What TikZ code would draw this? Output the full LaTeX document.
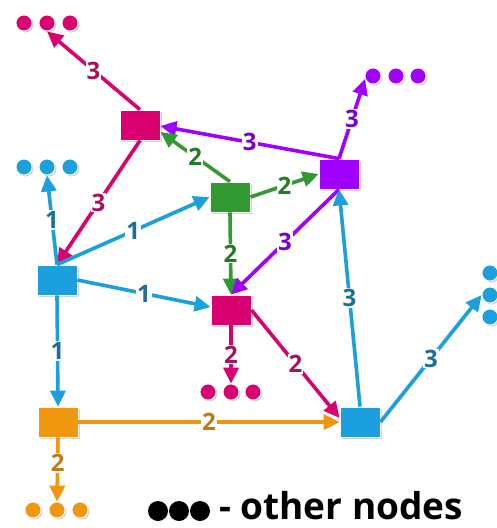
\documentclass[tikz,border=0pt]{standalone}
\usepackage{fontspec}
\setsansfont{Open Sans}
\usetikzlibrary{arrows.meta,shadows,calc}
\definecolor{cpink}{HTML}{D9006F}
\definecolor{cpinkt}{HTML}{A3135E}
\definecolor{cblue}{HTML}{1CA0DD}
\definecolor{cbluet}{HTML}{1A6E9E}
\definecolor{cgreen}{HTML}{339933}
\definecolor{cgreent}{HTML}{267A26}
\definecolor{cpurple}{HTML}{A000FF}
\definecolor{cpurplet}{HTML}{7B00C8}
\definecolor{corange}{HTML}{F0960F}
\definecolor{coranget}{HTML}{C07A10}
\begin{document}
\begin{tikzpicture}[x=1pt,y=-1pt,
  sq/.style={rectangle, minimum width=40pt, minimum height=30pt, inner sep=0pt,
    draw=white, line width=0.8pt, fill=#1,
    drop shadow={shadow xshift=2pt, shadow yshift=-2pt, opacity=0.35}},
  ndot/.style={circle, minimum size=16pt, inner sep=0pt, fill=#1, draw=white, line width=0.8pt,
    drop shadow={shadow xshift=1.5pt, shadow yshift=-1.5pt, opacity=0.35}},
  conn/.style={draw=#1, line width=3.6pt, -{Triangle[length=16pt,width=15pt]},
    preaction={draw=black!50, opacity=0.25, transform canvas={xshift=1.5pt,yshift=-1.5pt}}},
  lab/.style={fill=white, inner sep=1pt, text=#1,
    font=\sffamily\bfseries\fontsize{24}{24}\selectfont}
]
\useasboundingbox (0,0) rectangle (497,528);

% main nodes
\node[sq=cpink]   (P1) at (140,125) {};
\node[sq=cgreen]  (G)  at (230,197) {};
\node[sq=cpurple] (V)  at (339,174) {};
\node[sq=cblue]   (B1) at (57,280) {};
\node[sq=cpink]   (P2) at (231,310) {};
\node[sq=cblue]   (B2) at (360,422) {};
\node[sq=corange] (O)  at (58,422) {};

% dots groups
\node[ndot=cpink] (pk1) at (24,23) {};
\node[ndot=cpink] (pk2) at (47,23) {};
\node[ndot=cpink] (pk3) at (70,23) {};
\node[ndot=cblue] (bd1) at (24,167) {};
\node[ndot=cblue] (bd2) at (47,167) {};
\node[ndot=cblue] (bd3) at (70,167) {};
\node[ndot=cpurple] (vd1) at (373,76) {};
\node[ndot=cpurple] (vd2) at (396,76) {};
\node[ndot=cpurple] (vd3) at (418,76) {};
\node[ndot=cpink] (pm1) at (208,392) {};
\node[ndot=cpink] (pm2) at (231,392) {};
\node[ndot=cpink] (pm3) at (253,392) {};
\node[ndot=corange] (od1) at (33,510) {};
\node[ndot=corange] (od2) at (57,510) {};
\node[ndot=corange] (od3) at (80,510) {};
\node[ndot=cblue] (rd1) at (490,273) {};
\node[ndot=cblue] (rd2) at (490,295) {};
\node[ndot=cblue] (rd3) at (490,317) {};

% edges
\draw[conn=cpink] (P1.north) -- node[lab=cpinkt]{3} (pk2.south);
\draw[conn=cpink] (P1.south) -- node[lab=cpinkt]{3} (B1.north);
\draw[conn=cblue] (B1.north) -- node[lab=cbluet]{1} (bd2.south);
\draw[conn=cblue] (B1.north) -- node[lab=cbluet]{1} (G.west);
\draw[conn=cblue] (B1.east) -- node[lab=cbluet]{1} ([yshift=3pt]P2.west);
\draw[conn=cblue] (B1.south) -- node[lab=cbluet]{1} (O.north);
\draw[conn=cpurple] (V.north) -- node[lab=cpurplet]{3} ([yshift=-1pt]P1.east);
\draw[conn=cgreen] (G.north) -- node[lab=cgreent]{2} ([yshift=-7pt]P1.east);
\draw[conn=cgreen] (G.east) -- node[lab=cgreent]{2} (V.west);
\draw[conn=cgreen] (G.south) -- node[lab=cgreent]{2} (P2.north);
\draw[conn=cpurple] (V.south) -- node[lab=cpurplet]{3} (P2.north);
\draw[conn=cpurple] (V.north) -- node[lab=cpurplet]{3} (vd1.200);
\draw[conn=cblue] (B2.north) -- node[lab=cbluet]{3} (V.south);
\draw[conn=cpink] (P2.east) -- node[lab=cpinkt]{2} ([yshift=4pt]B2.west);
\draw[conn=cpink] (P2.south) -- node[lab=cpinkt]{2} (pm2.north);
\draw[conn=corange] (O.east) -- node[lab=coranget]{2} (B2.west);
\draw[conn=corange] (O.south) -- node[lab=coranget, pos=0.4]{2} (od2.north);
\draw[conn=cblue] (B2.east) -- node[lab=cbluet]{3} (rd2.west);

% legend
\node[circle, fill=black, minimum size=20pt, inner sep=0pt] (l1) at (158,511) {};
\node[circle, fill=black, minimum size=20pt, inner sep=0pt] (l2) at (179,511) {};
\node[circle, fill=black, minimum size=20pt, inner sep=0pt] (l3) at (200,511) {};
\node[anchor=base west, inner sep=0pt, font=\sffamily\bfseries\fontsize{37}{37}\selectfont] (leg) at (219,519) {- other nodes};
\end{tikzpicture}
\end{document}
